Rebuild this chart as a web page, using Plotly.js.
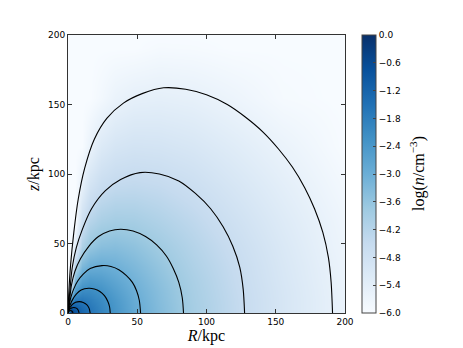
<!DOCTYPE html>
<html>
<head>
<meta charset="utf-8">
<script src="https://cdn.plot.ly/plotly-3.0.1.min.js"></script>
<style>html,body{margin:0;padding:0;background:#fff;}#plot{width:463px;height:348px;}</style>
</head>
<body>
<div id="plot"></div>
<script>
// Grid coordinates (kpc)
var gridR = [0, 2, 5, 10, 16, 24, 34, 48, 66, 90, 120, 155, 191, 200];
var gridZ = [0, 2, 5, 10, 16, 24, 34, 48, 66, 90, 120, 155, 191, 200];
// log(n/cm^-3), rows = z, columns = R
var logN = [
  [-0.5, -0.3, -0.75, -1.25, -1.6, -1.95, -2.35, -2.87, -3.35, -3.9, -4.42, -5.0, -5.5, -5.62],
  [-6, -0.51, -0.85, -1.29, -1.62, -1.96, -2.36, -2.87, -3.35, -3.9, -4.42, -5.0, -5.5, -5.62],
  [-6, -1.16, -1.15, -1.41, -1.69, -2.0, -2.38, -2.89, -3.36, -3.9, -4.42, -5.0, -5.5, -5.62],
  [-6, -2.5, -1.78, -1.71, -1.85, -2.1, -2.45, -2.93, -3.39, -3.92, -4.43, -5.0, -5.5, -5.62],
  [-6, -3.93, -2.48, -2.1, -2.1, -2.26, -2.58, -3.0, -3.42, -3.94, -4.45, -5.01, -5.51, -5.63],
  [-6, -5.53, -3.3, -2.63, -2.47, -2.55, -2.78, -3.11, -3.5, -3.98, -4.48, -5.04, -5.53, -5.64],
  [-6, -6, -4.26, -3.28, -3.0, -2.95, -3.05, -3.28, -3.61, -4.06, -4.52, -5.07, -5.55, -5.66],
  [-6, -6, -5.39, -4.08, -3.64, -3.46, -3.42, -3.54, -3.8, -4.18, -4.61, -5.13, -5.6, -5.69],
  [-6, -6, -6, -4.74, -4.21, -3.97, -3.87, -3.9, -4.08, -4.36, -4.76, -5.23, -5.65, -5.75],
  [-6, -6, -6, -5.45, -4.86, -4.55, -4.41, -4.38, -4.45, -4.65, -4.99, -5.39, -5.77, -5.85],
  [-6, -6, -6, -6, -5.6, -5.2, -4.99, -4.9, -4.93, -5.05, -5.3, -5.62, -5.92, -5.99],
  [-6, -6, -6, -6, -6, -5.85, -5.62, -5.48, -5.44, -5.5, -5.68, -5.93, -6, -6],
  [-6, -6, -6, -6, -6, -6, -6, -6, -5.92, -5.94, -6, -6, -6, -6],
  [-6, -6, -6, -6, -6, -6, -6, -6, -6, -6, -6, -6, -6, -6]
];

// Contour lines (R, z in kpc)
var c1R = [0, 0.3, 1, 1.8, 2.7, 3.3, 3.5];
var c1Z = [0, 0.6, 1.5, 1.7, 1.4, 0.8, 0];
var c2R = [0, 0.4, 1, 2.5, 4.2, 6, 7.3, 8];
var c2Z = [0, 1, 2.2, 3.6, 4, 3.5, 2.2, 0];
var c3R = [0, 0.5, 1.5, 3, 5.5, 8.3, 11, 13.5, 15.2, 16];
var c3Z = [0, 1.8, 4, 6, 7.7, 8.2, 7.6, 6, 3.5, 0];
var c4R = [0, 0.7, 1.8, 3.5, 6, 9.5, 14.9, 19, 23, 26.3, 28.7, 30, 30.5];
var c4Z = [0, 3, 6.5, 10, 13.5, 16.5, 17.8, 17.3, 15.5, 12.5, 8.5, 4.5, 0];
var c5R = [0, 0.8, 2, 4, 7, 11, 16, 24.5, 31, 37, 42, 46.5, 49.5, 51.5, 52.4];
var c5Z = [0, 5, 11, 17, 23, 28, 32, 34.1, 33.5, 31, 27, 22, 16, 9, 0];
var c6R = [0, 1, 2.5, 5, 9, 15, 22, 30, 38, 47, 56, 64, 71, 76, 80, 82.5, 83.4];
var c6Z = [0, 8, 20, 30, 39, 48, 55, 59, 60.3, 59, 55, 49, 41, 32, 22, 11, 0];
var c7R = [0, 1, 3.1, 6, 10.3, 17, 27, 38, 52, 66, 80, 92, 103, 112, 119, 124, 126.5, 127.5];
var c7Z = [0, 12, 33, 47, 60, 75, 88, 96, 101, 100, 95, 86, 75, 62, 48, 33, 17, 0];
var c8R = [0, 0.6, 1.9, 4.2, 7.4, 12, 19, 28, 40, 54, 69, 85, 100, 115, 128, 141, 152, 162, 171, 178, 184, 188, 190, 191];
var c8Z = [0, 15, 35, 58, 82, 104, 125, 140, 151, 158, 162, 161, 157, 150, 141, 130, 118, 105, 90, 75, 58, 40, 22, 0];

var axisTicks = [0, 50, 100, 150, 200];
var cbTicks = [0, -0.6, -1.2, -1.8, -2.4, -3.0, -3.6, -4.2, -4.8, -5.4, -6.0];
var cbLabels = ['0.0', '\u22120.6', '\u22121.2', '\u22121.8', '\u22122.4', '\u22123.0', '\u22123.6', '\u22124.2', '\u22124.8', '\u22125.4', '\u22126.0'];

var blues = [
  [0, '#f7fbff'], [0.125, '#deebf7'], [0.25, '#c6dbef'], [0.375, '#9ecae1'],
  [0.5, '#6baed6'], [0.625, '#4292c6'], [0.75, '#2171b5'], [0.875, '#08519c'], [1, '#08306b']
];

var traces = [{
  type: 'heatmap', x: gridR, y: gridZ, z: logN, zmin: -6, zmax: 0,
  zsmooth: 'best', colorscale: blues, hoverinfo: 'skip',
  colorbar: {
    x: 1.0625, xanchor: 'left', xpad: 0, y: 0.5, yanchor: 'middle', ypad: 0,
    len: 1, lenmode: 'fraction', thickness: 14, thicknessmode: 'pixels',
    outlinewidth: 1, outlinecolor: '#444',
    tickvals: cbTicks, ticktext: cbLabels, ticks: 'inside', ticklen: 3, tickcolor: '#444',
    tickfont: {family: 'DejaVu Sans', size: 9, color: '#000'}
  }
}];

var cR = [c1R, c2R, c3R, c4R, c5R, c6R, c7R, c8R];
var cZ = [c1Z, c2Z, c3Z, c4Z, c5Z, c6Z, c7Z, c8Z];
for (var i = 0; i < cR.length; i++) {
  traces.push({
    type: 'scatter', mode: 'lines', x: cR[i], y: cZ[i],
    line: {color: '#000', width: 1.1, shape: 'spline', smoothing: 0.8},
    hoverinfo: 'skip', showlegend: false
  });
}

var axisCommon = {
  range: [0, 200], tickvals: axisTicks, ticks: 'inside', ticklen: 4, tickcolor: '#333',
  mirror: 'ticks', showline: true, linecolor: '#333', linewidth: 1,
  showgrid: false, zeroline: false,
  tickfont: {family: 'DejaVu Sans', size: 9, color: '#000'}
};

var layout = {
  width: 463, height: 348,
  margin: {l: 68, r: 118, t: 35, b: 35, pad: 0},
  paper_bgcolor: '#fff', plot_bgcolor: '#fff',
  showlegend: false,
  xaxis: Object.assign({}, axisCommon, {
    title: {text: '<i>R</i>/kpc', standoff: 3, font: {family: 'Liberation Serif', size: 16, color: '#000'}}
  }),
  yaxis: Object.assign({}, axisCommon, {
    title: {text: '<i>z</i>/kpc', standoff: 4, font: {family: 'Liberation Serif', size: 16, color: '#000'}}
  }),
  annotations: [{
    text: 'log(<i>n</i>/cm<sup>\u22123</sup>)', xref: 'paper', yref: 'paper',
    x: 1.26, y: 0.5, xanchor: 'center', yanchor: 'middle', textangle: -90,
    showarrow: false, font: {family: 'Liberation Serif', size: 16, color: '#000'}
  }]
};

Plotly.newPlot('plot', traces, layout, {staticPlot: true, displayModeBar: false});
</script>
</body>
</html>
